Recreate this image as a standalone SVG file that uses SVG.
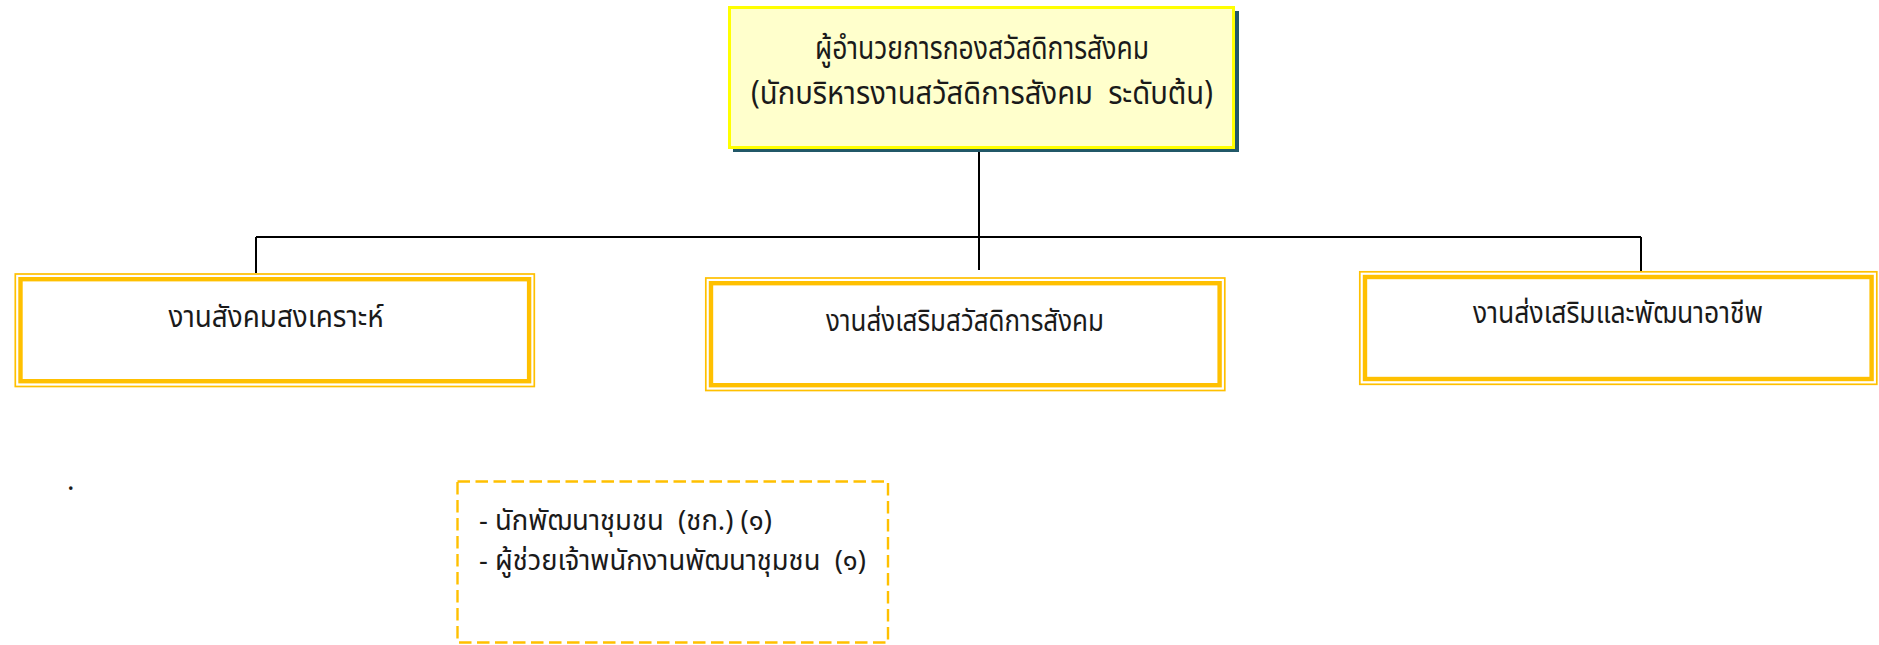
<svg xmlns="http://www.w3.org/2000/svg" width="1879" height="645" viewBox="0 0 1879 645">
<style>
text{font-family:"Noto Sans Thai","Noto Sans","Liberation Sans",sans-serif;fill:#1a1a1a}
.t{font-size:30px}
.h{font-size:32px}
.d{font-size:28px}
.outer{fill:none;stroke:#FFC000;stroke-width:1.7}
.inner{fill:#fff;stroke:#FFC000;stroke-width:4.4}
.conn{fill:none;stroke:#000;stroke-width:2}
</style>
<rect width="1879" height="645" fill="#fff"/>
<g id="connectors">
<path class="conn" d="M979 150V270"/>
<path class="conn" d="M256 237H1641"/>
<path class="conn" d="M256 237V273"/>
<path class="conn" d="M1641 237V271"/>
</g>
<g id="director">
<rect x="733" y="11" width="506" height="141" fill="#215868"/>
<rect x="729.5" y="7.5" width="504" height="140" fill="#FFFFCC" stroke="#FFFF00" stroke-width="3"/>
<text class="h" x="982" y="59" text-anchor="middle" textLength="334" lengthAdjust="spacingAndGlyphs">ผู้อำนวยการกองสวัสดิการสังคม</text>
<text class="h" x="982" y="104" text-anchor="middle" xml:space="preserve" textLength="462" lengthAdjust="spacingAndGlyphs">(นักบริหารงานสวัสดิการสังคม  ระดับต้น)</text>
</g>
<g id="social-welfare">
<rect class="outer" x="15.3" y="274" width="519" height="112.5"/>
<rect class="inner" x="20.5" y="279.2" width="508.6" height="102"/>
<text class="t" x="276" y="327" text-anchor="middle" textLength="215" lengthAdjust="spacingAndGlyphs">งานสังคมสงเคราะห์</text>
</g>
<g id="welfare-promotion">
<rect class="outer" x="705.8" y="278" width="519" height="112.5"/>
<rect class="inner" x="711" y="283.2" width="508.6" height="102"/>
<text class="t" x="965" y="331" text-anchor="middle" textLength="278" lengthAdjust="spacingAndGlyphs">งานส่งเสริมสวัสดิการสังคม</text>
</g>
<g id="occupation">
<rect class="outer" x="1359.8" y="271.8" width="517" height="112.5"/>
<rect class="inner" x="1365" y="277" width="506.6" height="102"/>
<text class="t" x="1618" y="323" text-anchor="middle" textLength="290" lengthAdjust="spacingAndGlyphs">งานส่งเสริมและพัฒนาอาชีพ</text>
</g>
<g id="staff">
<rect x="457.5" y="481.5" width="430.5" height="161" fill="none" stroke="#FFC000" stroke-width="2.4" stroke-dasharray="12.5 5.5"/>
<text class="d" x="479" y="530" xml:space="preserve" textLength="293" lengthAdjust="spacingAndGlyphs">- นักพัฒนาชุมชน  (ชก.) (๑)</text>
<text class="d" x="479" y="570" xml:space="preserve" textLength="387" lengthAdjust="spacingAndGlyphs">- ผู้ช่วยเจ้าพนักงานพัฒนาชุมชน  (๑)</text>
</g>
<text class="d" x="67" y="490">.</text>
</svg>
